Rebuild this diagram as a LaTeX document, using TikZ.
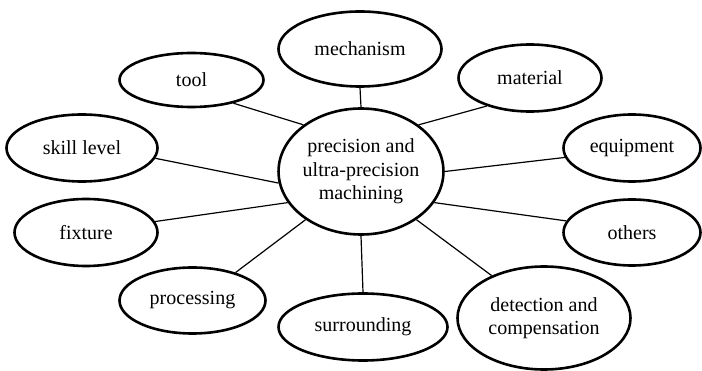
\documentclass[tikz,border=0pt]{standalone}
\usepackage{fontspec}
\setmainfont{Liberation Serif}
\usetikzlibrary{shapes.geometric}
\begin{document}
\begin{tikzpicture}[x=1pt,y=-1pt,
  bub/.style={ellipse,draw=black,line width=2.6pt,inner sep=0pt,align=center,
    font=\fontsize{20}{23.5}\selectfont},
  link/.style={draw=black,line width=1.2pt}]
\useasboundingbox (0,0) rectangle (702,371);
\node[bub,minimum width=146pt,minimum height=126pt] (c) at (361,171.5) {precision and\\ultra-precision\\machining};
\node[bub,minimum width=163pt,minimum height=75pt] (mech) at (360,49) {mechanism};
\node[bub,minimum width=144pt,minimum height=54pt] (tool) at (191.5,80) {tool};
\node[bub,minimum width=143pt,minimum height=67pt] (mat) at (530,78) {material};
\node[bub,minimum width=151pt,minimum height=67pt] (skill) at (82,148) {skill level};
\node[bub,minimum width=137pt,minimum height=67pt] (equip) at (632,148) {equipment};
\node[bub,minimum width=143pt,minimum height=67pt] (fix) at (86,232.5) {fixture};
\node[bub,minimum width=137pt,minimum height=66pt] (oth) at (632,232.5) {others};
\node[bub,minimum width=146pt,minimum height=66pt] (proc) at (192.5,300.5) {processing};
\node[bub,minimum width=169pt,minimum height=67pt] (sur) at (363,327) {surrounding};
\node[bub,minimum width=173pt,minimum height=103pt] (det) at (544,318) {detection and\\compensation};
\draw[link] (c.90) -- (mech.270);
\draw[link] (c.141) -- (tool.-29);
\draw[link] (c.39) -- (mat.213);
\draw[link] (c.188) -- (skill.-8);
\draw[link] (c.0) -- (equip.188);
\draw[link] (c.203.5) -- (fix.9);
\draw[link] (c.221) -- (proc.33.5);
\draw[link] (c.270) -- (sur.90);
\draw[link] (c.-23) -- (oth.170.5);
\draw[link] (c.-41) -- (det.141);
\end{tikzpicture}
\end{document}
